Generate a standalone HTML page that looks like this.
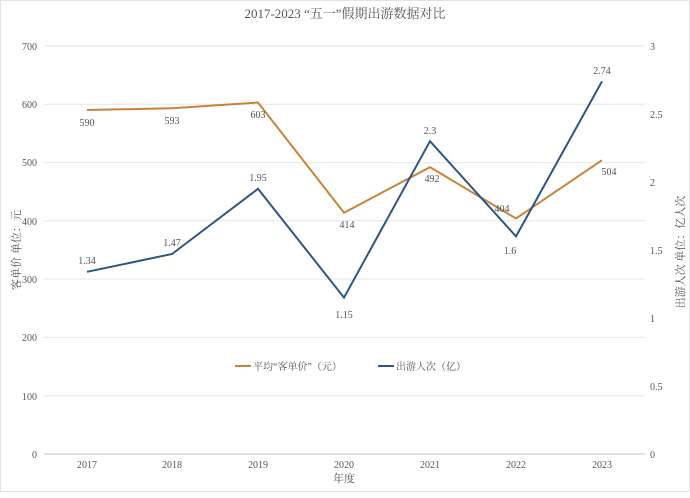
<!DOCTYPE html>
<html><head><meta charset="utf-8"><style>
body{margin:0;background:#fff}
svg text{font-family:"Liberation Serif","Noto Serif CJK SC",serif;fill:#555}
</style></head><body>
<svg width="690" height="493" viewBox="0 0 690 493">
<rect x="0.5" y="0.5" width="689" height="491" fill="#fff" stroke="#e3e3e3"/>
<text x="345" y="18" font-size="13" text-anchor="middle" fill="#444">2017-2023 “五一”假期出游数据对比</text>
<g stroke="#e6e6e6" stroke-width="1">
<line x1="44" x2="645" y1="46" y2="46"/><line x1="44" x2="645" y1="104.3" y2="104.3"/>
<line x1="44" x2="645" y1="162.6" y2="162.6"/><line x1="44" x2="645" y1="220.8" y2="220.8"/>
<line x1="44" x2="645" y1="279.1" y2="279.1"/><line x1="44" x2="645" y1="337.4" y2="337.4"/>
<line x1="44" x2="645" y1="395.7" y2="395.7"/>
</g>
<line x1="44" x2="645" y1="454" y2="454" stroke="#d9d9d9" stroke-width="1.5"/>
<g font-size="10" text-anchor="end">
<text x="37" y="50">700</text><text x="37" y="108">600</text><text x="37" y="166">500</text>
<text x="37" y="225">400</text><text x="37" y="283">300</text><text x="37" y="341">200</text>
<text x="37" y="400">100</text><text x="37" y="458">0</text>
</g>
<g font-size="10">
<text x="650" y="50">3</text><text x="650" y="118">2.5</text><text x="650" y="186">2</text>
<text x="650" y="254">1.5</text><text x="650" y="322">1</text><text x="650" y="390">0.5</text>
<text x="650" y="458">0</text>
</g>
<g font-size="10" text-anchor="middle">
<text x="87" y="468">2017</text><text x="172" y="468">2018</text><text x="258" y="468">2019</text>
<text x="344" y="468">2020</text><text x="430" y="468">2021</text><text x="516" y="468">2022</text>
<text x="602" y="468">2023</text>
<text x="344" y="482" font-size="11">年度</text>
</g>
<text transform="translate(20,250) rotate(-90)" font-size="11" text-anchor="middle">客单价 单位：元</text>
<text transform="translate(684,252) rotate(-90)" font-size="11" text-anchor="middle">出游人次 单位：亿人次</text>
<polyline fill="none" stroke="#c8833a" stroke-width="2" points="87,110 172,108.3 258,102.5 344,212.7 430,167.2 516,218.5 602,160.2"/>
<polyline fill="none" stroke="#2f5584" stroke-width="2" points="87,271.8 172,254 258,188.8 344,297.6 430,141.2 516,236.4 602,81.4"/>
<g font-size="10" text-anchor="middle" fill="#444">
<text x="87" y="126">590</text><text x="172" y="124">593</text><text x="258" y="118">603</text>
<text x="347" y="228">414</text><text x="432" y="182">492</text><text x="502" y="212">404</text><text x="609" y="175">504</text>
<text x="87" y="264">1.34</text><text x="172" y="246">1.47</text><text x="258" y="181">1.95</text>
<text x="344" y="318">1.15</text><text x="430" y="134">2.3</text><text x="510" y="254">1.6</text><text x="602" y="74">2.74</text>
</g>
<line x1="235" x2="251" y1="366" y2="366" stroke="#c8833a" stroke-width="2"/>
<text x="253" y="370" font-size="10">平均“客单价”（元）</text>
<line x1="378" x2="394" y1="366" y2="366" stroke="#2f5584" stroke-width="2"/>
<text x="396" y="370" font-size="10">出游人次（亿）</text>
</svg>
</body></html>
